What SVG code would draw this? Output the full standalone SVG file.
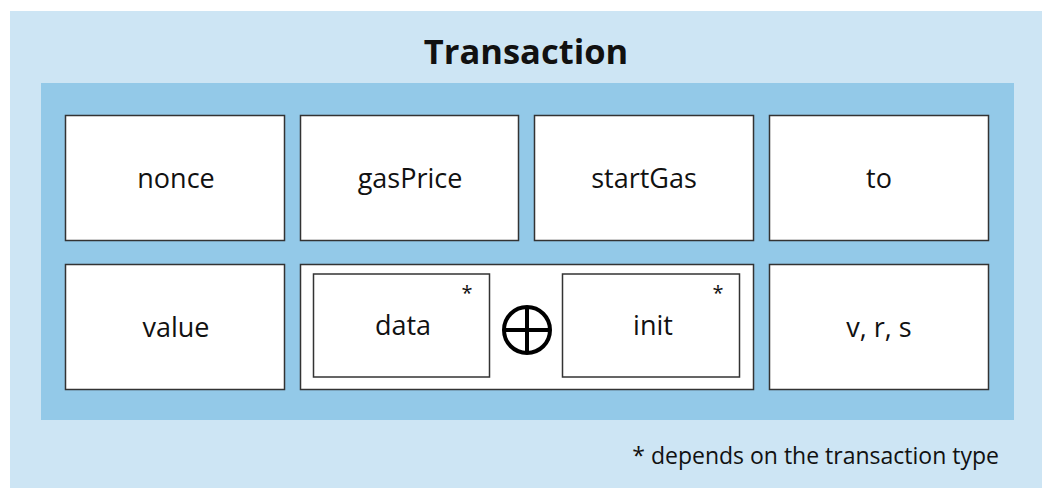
<svg xmlns="http://www.w3.org/2000/svg" width="1050" height="501" viewBox="0 0 1050 501">
<style>
.box{fill:#fff;stroke:#333;stroke-width:1.5}
.lbl{font-family:"Open Sans","Noto Sans",sans-serif;font-size:27px;fill:#111;text-anchor:middle}
.ast{font-family:"Open Sans","Noto Sans",sans-serif;font-size:20px;fill:#111;text-anchor:middle}
</style>
<rect x="0" y="0" width="1050" height="501" fill="#fff"/>
<rect id="outer" x="10" y="11" width="1032" height="477" fill="#cde5f4"/>
<text x="526" y="64" font-family="Open Sans, Noto Sans, sans-serif" font-size="34.5" font-weight="bold" fill="#111" text-anchor="middle">Transaction</text>
<rect id="inner" x="41" y="83" width="973" height="337" fill="#93c9e8"/>
<g id="nonce"><rect class="box" x="65.5" y="115.5" width="219" height="125"/><text class="lbl" x="176" y="188">nonce</text></g>
<g id="gasPrice"><rect class="box" x="300.5" y="115.5" width="218" height="125"/><text class="lbl" x="410" y="188">gasPrice</text></g>
<g id="startGas"><rect class="box" x="534.5" y="115.5" width="219" height="125"/><text class="lbl" x="644" y="188">startGas</text></g>
<g id="to"><rect class="box" x="769.5" y="115.5" width="219" height="125"/><text class="lbl" x="879" y="188">to</text></g>
<g id="value"><rect class="box" x="65.5" y="264.5" width="219" height="125"/><text class="lbl" x="176" y="337">value</text></g>
<g id="datainit"><rect class="box" x="300.5" y="264.5" width="453" height="125"/></g>
<g id="data"><rect class="box" x="313.5" y="274" width="176" height="103"/><text class="lbl" x="403" y="335">data</text><text class="ast" x="467" y="300">*</text></g>
<g id="xor"><circle cx="527" cy="330" r="23" fill="none" stroke="#000" stroke-width="4"/><line x1="504" y1="330" x2="550" y2="330" stroke="#000" stroke-width="4"/><line x1="527" y1="307" x2="527" y2="353" stroke="#000" stroke-width="4"/></g>
<g id="init"><rect class="box" x="562.5" y="274" width="177" height="103"/><text class="lbl" x="653" y="335">init</text><text class="ast" x="718" y="300">*</text></g>
<g id="vrs"><rect class="box" x="769.5" y="264.5" width="219" height="125"/><text class="lbl" x="879" y="337">v, r, s</text></g>
<text x="999" y="464" font-family="Open Sans, Noto Sans, sans-serif" font-size="23" fill="#111" text-anchor="end">* depends on the transaction type</text>
<g id="connectors"/>
</svg>
